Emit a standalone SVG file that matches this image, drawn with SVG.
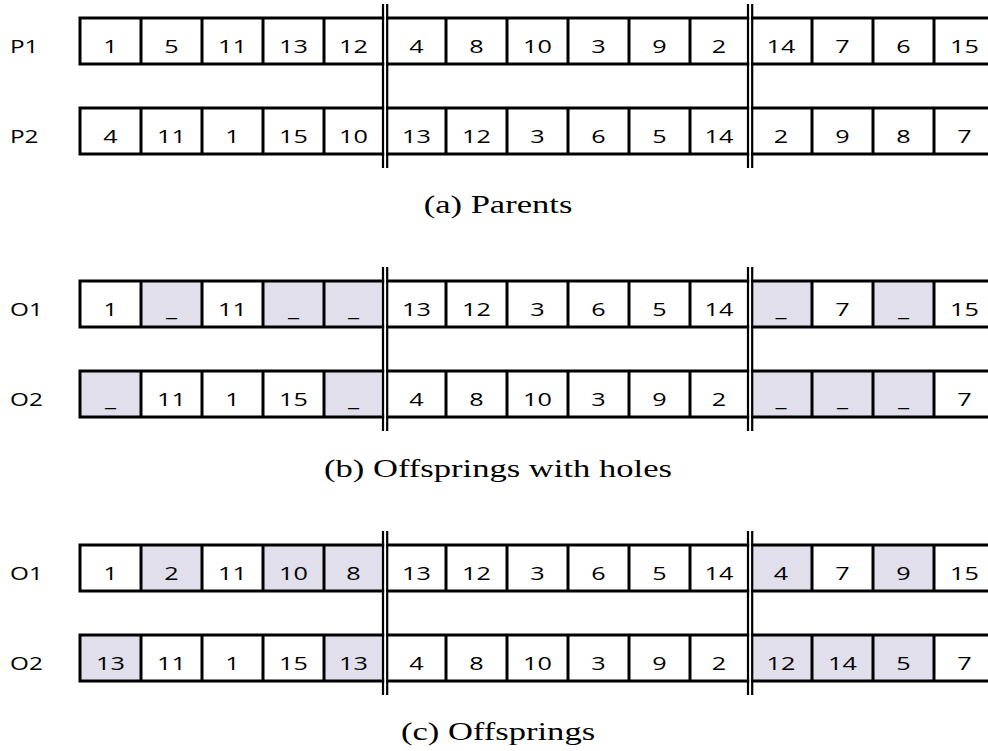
<svg xmlns="http://www.w3.org/2000/svg" width="988" height="751" viewBox="0 0 988 751">
<style>
.bg{fill:#fff}
.sh{fill:#e1dfec}
.box{fill:none;stroke:#000;stroke-width:3}
.dv{stroke:#000;stroke-width:3;fill:none}
.dbl{stroke:#000;stroke-width:2.2;fill:none}
.c{font-family:"Open Sans","Liberation Sans",sans-serif;font-size:18px;text-anchor:middle;fill:#000}
.lb{font-family:"Open Sans","Liberation Sans",sans-serif;font-size:18px;text-anchor:start;fill:#000}
.cap{font-family:"Liberation Serif","Times New Roman",serif;font-size:26px;text-anchor:middle;fill:#000}
</style>
<defs>
<path id="dividers" d="M141,0V46M202,0V46M263,0V46M324,0V46M446,0V46M507,0V46M568,0V46M629,0V46M690,0V46M812,0V46M873,0V46M934,0V46"/>
</defs>
<rect class="bg" x="0" y="0" width="988" height="751"/>

<!-- (a) Parents -->
<g id="P1">
<text class="lb" transform="translate(10,53) scale(1.35,1)">P1</text>
<rect class="box" x="80" y="18" width="920" height="46"/>
<use href="#dividers" class="dv" transform="translate(0,18)"/>
<g class="c">
<text transform="translate(110.5,53) scale(1.4,1)">1</text>
<text transform="translate(171.5,53) scale(1.4,1)">5</text>
<text transform="translate(232.5,53) scale(1.4,1)">11</text>
<text transform="translate(293.5,53) scale(1.4,1)">13</text>
<text transform="translate(353.5,53) scale(1.4,1)">12</text>
<text transform="translate(416.5,53) scale(1.4,1)">4</text>
<text transform="translate(476.5,53) scale(1.4,1)">8</text>
<text transform="translate(537.5,53) scale(1.4,1)">10</text>
<text transform="translate(598.5,53) scale(1.4,1)">3</text>
<text transform="translate(659.5,53) scale(1.4,1)">9</text>
<text transform="translate(719,53) scale(1.4,1)">2</text>
<text transform="translate(781,53) scale(1.4,1)">14</text>
<text transform="translate(842.5,53) scale(1.4,1)">7</text>
<text transform="translate(903.5,53) scale(1.4,1)">6</text>
<text transform="translate(964.5,53) scale(1.4,1)">15</text>
</g>
</g>
<g id="P2">
<text class="lb" transform="translate(10,143) scale(1.35,1)">P2</text>
<rect class="box" x="80" y="108" width="920" height="46"/>
<use href="#dividers" class="dv" transform="translate(0,108)"/>
<g class="c">
<text transform="translate(110.5,143) scale(1.4,1)">4</text>
<text transform="translate(171.5,143) scale(1.4,1)">11</text>
<text transform="translate(232.5,143) scale(1.4,1)">1</text>
<text transform="translate(293.5,143) scale(1.4,1)">15</text>
<text transform="translate(353.5,143) scale(1.4,1)">10</text>
<text transform="translate(416.5,143) scale(1.4,1)">13</text>
<text transform="translate(476.5,143) scale(1.4,1)">12</text>
<text transform="translate(537.5,143) scale(1.4,1)">3</text>
<text transform="translate(598.5,143) scale(1.4,1)">6</text>
<text transform="translate(659.5,143) scale(1.4,1)">5</text>
<text transform="translate(719,143) scale(1.4,1)">14</text>
<text transform="translate(781,143) scale(1.4,1)">2</text>
<text transform="translate(842.5,143) scale(1.4,1)">9</text>
<text transform="translate(903.5,143) scale(1.4,1)">8</text>
<text transform="translate(964.5,143) scale(1.4,1)">7</text>
</g>
</g>
<text id="capA" class="cap" transform="translate(498,213) scale(1.33,1)">(a) Parents</text>

<!-- (b) Offsprings with holes -->
<g id="O1b">
<text class="lb" transform="translate(10,316) scale(1.35,1)">O1</text>
<rect class="sh" x="141" y="281" width="61" height="46"/>
<rect class="sh" x="263" y="281" width="122" height="46"/>
<rect class="sh" x="750" y="281" width="62" height="46"/>
<rect class="sh" x="873" y="281" width="61" height="46"/>
<rect class="box" x="80" y="281" width="920" height="46"/>
<use href="#dividers" class="dv" transform="translate(0,281)"/>
<g class="c">
<text transform="translate(110.5,316) scale(1.4,1)">1</text>
<text transform="translate(171.5,316) scale(1.4,1)">_</text>
<text transform="translate(232.5,316) scale(1.4,1)">11</text>
<text transform="translate(293.5,316) scale(1.4,1)">_</text>
<text transform="translate(353.5,316) scale(1.4,1)">_</text>
<text transform="translate(416.5,316) scale(1.4,1)">13</text>
<text transform="translate(476.5,316) scale(1.4,1)">12</text>
<text transform="translate(537.5,316) scale(1.4,1)">3</text>
<text transform="translate(598.5,316) scale(1.4,1)">6</text>
<text transform="translate(659.5,316) scale(1.4,1)">5</text>
<text transform="translate(719,316) scale(1.4,1)">14</text>
<text transform="translate(781,316) scale(1.4,1)">_</text>
<text transform="translate(842.5,316) scale(1.4,1)">7</text>
<text transform="translate(903.5,316) scale(1.4,1)">_</text>
<text transform="translate(964.5,316) scale(1.4,1)">15</text>
</g>
</g>
<g id="O2b">
<text class="lb" transform="translate(10,406) scale(1.35,1)">O2</text>
<rect class="sh" x="80" y="371" width="61" height="46"/>
<rect class="sh" x="324" y="371" width="61" height="46"/>
<rect class="sh" x="750" y="371" width="184" height="46"/>
<rect class="box" x="80" y="371" width="920" height="46"/>
<use href="#dividers" class="dv" transform="translate(0,371)"/>
<g class="c">
<text transform="translate(110.5,406) scale(1.4,1)">_</text>
<text transform="translate(171.5,406) scale(1.4,1)">11</text>
<text transform="translate(232.5,406) scale(1.4,1)">1</text>
<text transform="translate(293.5,406) scale(1.4,1)">15</text>
<text transform="translate(353.5,406) scale(1.4,1)">_</text>
<text transform="translate(416.5,406) scale(1.4,1)">4</text>
<text transform="translate(476.5,406) scale(1.4,1)">8</text>
<text transform="translate(537.5,406) scale(1.4,1)">10</text>
<text transform="translate(598.5,406) scale(1.4,1)">3</text>
<text transform="translate(659.5,406) scale(1.4,1)">9</text>
<text transform="translate(719,406) scale(1.4,1)">2</text>
<text transform="translate(781,406) scale(1.4,1)">_</text>
<text transform="translate(842.5,406) scale(1.4,1)">_</text>
<text transform="translate(903.5,406) scale(1.4,1)">_</text>
<text transform="translate(964.5,406) scale(1.4,1)">7</text>
</g>
</g>
<text id="capB" class="cap" transform="translate(498,477) scale(1.33,1)">(b) Offsprings with holes</text>

<!-- (c) Offsprings -->
<g id="O1c">
<text class="lb" transform="translate(10,580) scale(1.35,1)">O1</text>
<rect class="sh" x="141" y="545" width="61" height="46"/>
<rect class="sh" x="263" y="545" width="122" height="46"/>
<rect class="sh" x="750" y="545" width="62" height="46"/>
<rect class="sh" x="873" y="545" width="61" height="46"/>
<rect class="box" x="80" y="545" width="920" height="46"/>
<use href="#dividers" class="dv" transform="translate(0,545)"/>
<g class="c">
<text transform="translate(110.5,580) scale(1.4,1)">1</text>
<text transform="translate(171.5,580) scale(1.4,1)">2</text>
<text transform="translate(232.5,580) scale(1.4,1)">11</text>
<text transform="translate(293.5,580) scale(1.4,1)">10</text>
<text transform="translate(353.5,580) scale(1.4,1)">8</text>
<text transform="translate(416.5,580) scale(1.4,1)">13</text>
<text transform="translate(476.5,580) scale(1.4,1)">12</text>
<text transform="translate(537.5,580) scale(1.4,1)">3</text>
<text transform="translate(598.5,580) scale(1.4,1)">6</text>
<text transform="translate(659.5,580) scale(1.4,1)">5</text>
<text transform="translate(719,580) scale(1.4,1)">14</text>
<text transform="translate(781,580) scale(1.4,1)">4</text>
<text transform="translate(842.5,580) scale(1.4,1)">7</text>
<text transform="translate(903.5,580) scale(1.4,1)">9</text>
<text transform="translate(964.5,580) scale(1.4,1)">15</text>
</g>
</g>
<g id="O2c">
<text class="lb" transform="translate(10,670) scale(1.35,1)">O2</text>
<rect class="sh" x="80" y="635" width="61" height="46"/>
<rect class="sh" x="324" y="635" width="61" height="46"/>
<rect class="sh" x="750" y="635" width="184" height="46"/>
<rect class="box" x="80" y="635" width="920" height="46"/>
<use href="#dividers" class="dv" transform="translate(0,635)"/>
<g class="c">
<text transform="translate(110.5,670) scale(1.4,1)">13</text>
<text transform="translate(171.5,670) scale(1.4,1)">11</text>
<text transform="translate(232.5,670) scale(1.4,1)">1</text>
<text transform="translate(293.5,670) scale(1.4,1)">15</text>
<text transform="translate(353.5,670) scale(1.4,1)">13</text>
<text transform="translate(416.5,670) scale(1.4,1)">4</text>
<text transform="translate(476.5,670) scale(1.4,1)">8</text>
<text transform="translate(537.5,670) scale(1.4,1)">10</text>
<text transform="translate(598.5,670) scale(1.4,1)">3</text>
<text transform="translate(659.5,670) scale(1.4,1)">9</text>
<text transform="translate(719,670) scale(1.4,1)">2</text>
<text transform="translate(781,670) scale(1.4,1)">12</text>
<text transform="translate(842.5,670) scale(1.4,1)">14</text>
<text transform="translate(903.5,670) scale(1.4,1)">5</text>
<text transform="translate(964.5,670) scale(1.4,1)">7</text>
</g>
</g>
<text id="capC" class="cap" transform="translate(498,740) scale(1.33,1)">(c) Offsprings</text>

<!-- crossover cut lines -->
<g id="connectors">
<rect class="bg" x="384.2" y="4" width="1.8" height="164"/>
<rect class="bg" x="749.2" y="4" width="1.8" height="164"/>
<rect class="bg" x="384.2" y="267" width="1.8" height="164"/>
<rect class="bg" x="749.2" y="267" width="1.8" height="164"/>
<rect class="bg" x="384.2" y="531" width="1.8" height="164"/>
<rect class="bg" x="749.2" y="531" width="1.8" height="164"/>
<path class="dbl" d="M383,4V168M387.2,4V168M748,4V168M752.2,4V168"/>
<path class="dbl" d="M383,267V431M387.2,267V431M748,267V431M752.2,267V431"/>
<path class="dbl" d="M383,531V695M387.2,531V695M748,531V695M752.2,531V695"/>
</g>
</svg>
